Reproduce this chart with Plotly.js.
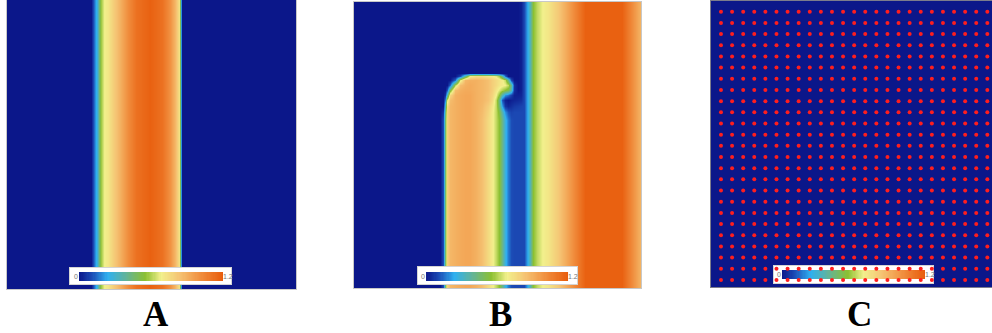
<!DOCTYPE html>
<html><head><meta charset="utf-8">
<script src="https://cdn.plot.ly/plotly-3.0.1.min.js"></script>
<style>html,body{margin:0;padding:0;background:#fff;}#chart{width:992px;height:333px;}</style>
</head><body><div id="chart"></div>
<script>
// ---------- Panel A : profile across x (uniform along y) ----------
const aX = [0, 84, 86, 88, 90, 92, 94, 97, 101, 106, 113, 121, 129, 143, 155, 163, 168, 171.5, 173, 174, 175, 289];
const aZ = [0, 0, 0.1, 0.2, 0.28, 0.45, 0.58, 0.68, 0.72, 0.8, 0.9, 1.02, 1.12, 1.18, 1.12, 1.0, 0.88, 0.74, 0.5, 0.2, 0, 0];
const aY = [0, 289];

// ---------- Panel B : 2-D field ----------
const bXLeft  = [0, 86, 89, 91, 93, 96, 101, 106, 111, 116, 122, 128, 134, 138, 142, 145, 148, 151, 154, 157, 160, 164, 167];
const bXRight = [170, 173, 176, 179, 183, 188, 194, 204, 218, 231, 268, 278, 287];
const bRight  = [0.1, 0.22, 0.35, 0.55, 0.62, 0.68, 0.72, 0.82, 1.0, 1.18, 1.18, 1.02, 0.88];
const bY = [0, 68, 71, 74, 78, 83, 88, 93, 98, 104, 110, 118, 286];
const bRowTop  = [0,0,0,0,0,0,0,0,0,0,0,0,0,0,0,0,0,0,0,0,0,0,0.02];
const bRow74   = [0,0,0,0,0,0,0,0.1,0.4,0.7,0.75,0.75,0.72,0.7,0.66,0.58,0.4,0.15,0,0,0,0,0.02];
const bRow78   = [0,0,0,0,0,0,0.15,0.65,0.88,0.9,0.9,0.88,0.85,0.8,0.76,0.73,0.7,0.62,0.4,0.1,0,0,0.02];
const bRow83   = [0,0,0,0,0,0.15,0.6,0.86,0.9,0.92,0.9,0.88,0.85,0.8,0.76,0.72,0.7,0.68,0.62,0.4,0.05,0,0.02];
const bRow88   = [0,0,0,0,0.12,0.5,0.86,0.9,0.92,0.92,0.9,0.88,0.85,0.8,0.72,0.66,0.6,0.55,0.5,0.35,0.05,0,0.02];
const bRow93   = [0,0,0,0.05,0.35,0.78,0.9,0.92,0.93,0.93,0.9,0.88,0.84,0.78,0.68,0.55,0.35,0.2,0.15,0.08,0.02,0.02,0.03];
const bRow98   = [0,0,0,0.18,0.65,0.86,0.9,0.92,0.93,0.93,0.9,0.88,0.84,0.76,0.62,0.42,0.12,0.02,0,0.02,0.03,0.04,0.05];
const bRow104  = [0,0,0,0.32,0.76,0.88,0.9,0.92,0.93,0.93,0.9,0.87,0.8,0.72,0.62,0.45,0.22,0.06,0.03,0.05,0.07,0.08,0.09];
const bRow110  = [0,0,0.05,0.4,0.8,0.88,0.9,0.92,0.93,0.93,0.9,0.86,0.78,0.7,0.62,0.52,0.36,0.2,0.12,0.09,0.1,0.1,0.1];
const bRowBase = [0,0,0.1,0.45,0.8,0.88,0.9,0.92,0.93,0.93,0.9,0.85,0.76,0.7,0.62,0.55,0.42,0.27,0.17,0.11,0.1,0.1,0.1];

// ---------- Panel C : uniform field + mesh nodes ----------
const cZ = [[0, 0], [0, 0]];
const cFieldX = [0, 26];
const cFieldY = [0, 26];
const cCols = [1,2,3,4,5,6,7,8,9,10,11,12,13,14,15,16,17,18,19,20,21,22,23,24,25];
const cRows = [1,2,3,4,5,6,7,8,9,10,11,12,13,14,15,16,17,18,19,20,21,22,23,24,25];

// ---------- shared colour bar ----------
const cbMin = 0, cbMax = 1.2;
const cbLabels = ['0', '1.2'];
const panelLabels = ['A', 'B', 'C'];

const cscale = [
  [0.00, 'rgb(11,23,138)'],
  [0.09, 'rgb(28,76,182)'],
  [0.20, 'rgb(47,176,240)'],
  [0.33, 'rgb(100,180,150)'],
  [0.46, 'rgb(140,192,50)'],
  [0.57, 'rgb(242,240,140)'],
  [0.70, 'rgb(245,195,115)'],
  [0.85, 'rgb(240,140,60)'],
  [1.00, 'rgb(232,92,12)']
];

// build tables
const bX = bXLeft.concat(bXRight);
const bRowsLeft = [bRowTop, bRowTop, bRowTop, bRow74, bRow78, bRow83, bRow88, bRow93, bRow98, bRow104, bRow110, bRowBase, bRowBase];
const bZ = bRowsLeft.map(r => r.concat(bRight));
const dotX = [], dotY = [];
cRows.forEach(r => cCols.forEach(c => { dotX.push(c); dotY.push(r); }));
const rampEdges = [], rampVals = [];
for (let i = 0; i <= 120; i++) rampEdges.push(cbMin + (cbMax - cbMin) * i / 120);
for (let i = 0; i < 120; i++) rampVals.push((rampEdges[i] + rampEdges[i + 1]) / 2);

const hm = {type: 'heatmap', colorscale: cscale, zmin: cbMin, zmax: cbMax, showscale: false, hoverinfo: 'skip'};
const traces = [
  Object.assign({}, hm, {x: aX, y: aY, z: [aZ, aZ], zsmooth: 'best', xaxis: 'x', yaxis: 'y'}),
  Object.assign({}, hm, {x: bX, y: bY, z: bZ, zsmooth: 'best', xaxis: 'x2', yaxis: 'y2'}),
  Object.assign({}, hm, {x: cFieldX, y: cFieldY, z: cZ, zsmooth: false, xaxis: 'x3', yaxis: 'y3'}),
  Object.assign({}, hm, {x: rampEdges, y: [3, 12], z: [rampVals], zsmooth: false, xaxis: 'x4', yaxis: 'y4'}),
  Object.assign({}, hm, {x: rampEdges, y: [3, 12], z: [rampVals], zsmooth: false, xaxis: 'x5', yaxis: 'y5'}),
  Object.assign({}, hm, {x: rampEdges, y: [4, 13], z: [rampVals], zsmooth: false, xaxis: 'x6', yaxis: 'y6'}),
  {type: 'scatter', mode: 'markers', x: dotX, y: dotY, xaxis: 'x7', yaxis: 'y7',
   marker: {size: 4, color: 'rgb(255,30,30)', line: {width: 0}}, hoverinfo: 'skip'}
];

const W = 992, H = 333;
const dx = (a, b) => [a / W, b / W];
const dy = (top, bot) => [(H - bot) / H, (H - top) / H];
function ax(dom, range, lc, anchor, show) {
  return {domain: dom, range: range, anchor: anchor, showline: show, mirror: show, linecolor: lc, linewidth: 1,
          showgrid: false, zeroline: false, showticklabels: false, ticks: '', fixedrange: true};
}
const cXR = [0.1, 25.42], cYR = [25.63, 0.04];
const insetX = {'4': [-0.075, 1.267], '5': [-0.068, 1.276], '6': [-0.067, 1.267]};
const insetY = {'4': [0, 16], '5': [0, 17], '6': [0, 17]};
const lightLine = '#c8c8c8', darkLine = '#7c7c8c', boxLine = '#d4d4d4';

const layout = {
  width: W, height: H, margin: {l: 0, r: 0, t: 0, b: 0},
  paper_bgcolor: '#ffffff', plot_bgcolor: 'rgba(0,0,0,0)', showlegend: false,
  xaxis:  ax(dx(7, 296), [0, 289], lightLine, 'y', true),
  yaxis:  ax(dy(0, 289), [289, 0], lightLine, 'x', true),
  xaxis2: ax(dx(354, 641), [0, 287], lightLine, 'y2', true),
  yaxis2: ax(dy(2, 288), [286, 0], lightLine, 'x2', true),
  xaxis3: ax(dx(711, 992), cXR, darkLine, 'y3', true),
  yaxis3: ax(dy(1, 287), cYR, darkLine, 'x3', true),
  xaxis4: ax(dx(70, 231), insetX['4'], boxLine, 'y4', true),
  yaxis4: ax(dy(268, 284), insetY['4'], boxLine, 'x4', true),
  xaxis5: ax(dx(418, 577), insetX['5'], boxLine, 'y5', true),
  yaxis5: ax(dy(267, 284), insetY['5'], boxLine, 'x5', true),
  xaxis6: ax(dx(774, 933), insetX['6'], boxLine, 'y6', true),
  yaxis6: ax(dy(266, 283), insetY['6'], boxLine, 'x6', true),
  xaxis7: ax(dx(711, 992), cXR, darkLine, 'y7', false),
  yaxis7: ax(dy(1, 287), cYR, darkLine, 'x7', false),
  shapes: ['4', '5', '6'].map(k => ({type: 'rect', xref: 'x' + k, yref: 'y' + k,
    x0: insetX[k][0], x1: insetX[k][1], y0: insetY[k][0], y1: insetY[k][1],
    fillcolor: '#ffffff', line: {width: 0}, layer: 'below'})),
  annotations: []
};
['4', '5', '6'].forEach(k => {
  const yc = (k === '6') ? 8.5 : 7.5;
  layout.annotations.push({xref: 'x' + k, yref: 'y' + k, x: cbMin, y: yc, text: cbLabels[0], showarrow: false,
    xanchor: 'right', yanchor: 'middle', borderpad: 0, font: {family: 'Liberation Sans, Arial', size: 7, color: '#777777'}});
  layout.annotations.push({xref: 'x' + k, yref: 'y' + k, x: cbMax, y: yc, text: cbLabels[1], showarrow: false,
    xanchor: 'left', yanchor: 'middle', borderpad: 0, xshift: -1, font: {family: 'Liberation Sans, Arial', size: 7, color: '#777777'}});
});
const labelX = [156, 501, 859];
panelLabels.forEach((t, i) => layout.annotations.push({
  xref: 'paper', yref: 'paper', x: labelX[i] / W, y: (H - 314) / H, text: '<b>' + t + '</b>', showarrow: false,
  xanchor: 'center', yanchor: 'middle', font: {family: 'Liberation Serif, Times New Roman, serif', size: 35, color: '#000'}
}));

Plotly.newPlot('chart', traces, layout, {staticPlot: true, displayModeBar: false});
</script>
</body></html>
